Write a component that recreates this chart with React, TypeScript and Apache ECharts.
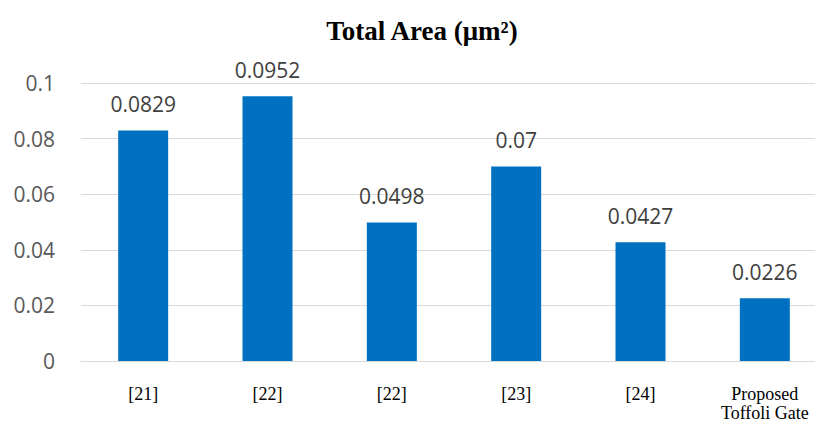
import React, { useEffect, useRef } from "react";
import * as echarts from "echarts";

const categories = ["[21]", "[22]", "[22]", "[23]", "[24]", "Proposed\nToffoli Gate"];
const areaValues = [0.0829, 0.0952, 0.0498, 0.07, 0.0427, 0.0226];
const yTicks = { min: 0, max: 0.1, interval: 0.02 };
const titleText = "Total Area (μm²)";

export default function App() {
  const ref = useRef<HTMLDivElement>(null);
  useEffect(() => {
    if (!ref.current) return;
    const chart = echarts.init(ref.current, undefined, { renderer: "svg" });
    chart.setOption({
      animation: false,
      backgroundColor: "#ffffff",
      title: {
        text: titleText,
        left: 417,
        top: 12,
        textAlign: "center",
        textStyle: {
          fontFamily: "Liberation Serif",
          fontWeight: "bold",
          fontSize: 27,
          color: "#000000",
        },
      },
      grid: { left: 81, top: 83, width: 746, height: 279 },
      xAxis: {
        type: "category",
        data: categories,
        axisTick: { show: false },
        axisLine: { lineStyle: { color: "#d9d9d9", width: 1 } },
        axisLabel: {
          interval: 0,
          margin: 23,
          fontFamily: "Liberation Serif",
          fontSize: 18,
          lineHeight: 19,
          color: "#000000",
        },
      },
      yAxis: {
        type: "value",
        min: yTicks.min,
        max: yTicks.max,
        interval: yTicks.interval,
        axisLine: { show: false },
        axisTick: { show: false },
        splitLine: { lineStyle: { color: "#d9d9d9", width: 1 } },
        axisLabel: {
          margin: 26,
          fontFamily: "Open Sans",
          fontSize: 21,
          color: "#595959",
        },
      },
      series: [
        {
          type: "bar",
          data: areaValues,
          barWidth: 50,
          itemStyle: { color: "#0070C0" },
          label: {
            show: true,
            position: "top",
            distance: 16,
            fontFamily: "Open Sans",
            fontSize: 21,
            color: "#404040",
          },
        },
      ],
    });
    return () => chart.dispose();
  }, []);
  return (
    <div
      ref={ref}
      style={{ position: "fixed", left: 0, top: 0, width: 830, height: 422 }}
    />
  );
}
